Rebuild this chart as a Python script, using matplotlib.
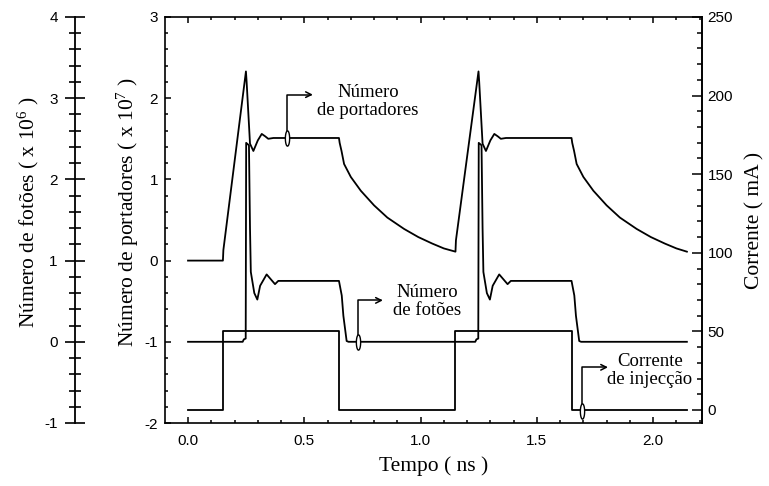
import matplotlib
matplotlib.use("Agg")
import matplotlib.pyplot as plt
from matplotlib.ticker import MultipleLocator, FormatStrFormatter
from matplotlib.path import Path
import numpy as np

plt.rcParams['axes.unicode_minus'] = False
plt.rcParams['mathtext.fontset'] = 'custom'
plt.rcParams['mathtext.rm'] = 'Liberation Serif'
plt.rcParams['mathtext.it'] = 'Liberation Serif'

# ---------------- data ----------------
carrier_t = [0.000, 0.150, 0.152, 0.249, 0.252, 0.2665, 0.281, 0.300, 0.317, 0.332, 0.345, 0.367,
             0.649, 0.652, 0.660, 0.671, 0.700, 0.743, 0.800, 0.857, 0.929, 0.990, 1.050, 1.100, 1.150,
             1.152, 1.249, 1.252, 1.2665, 1.281, 1.300, 1.317, 1.332, 1.345, 1.367,
             1.649, 1.652, 1.660, 1.671, 1.700, 1.743, 1.800, 1.857, 1.929, 1.990, 2.050, 2.100, 2.145]
carrier_n = [0.00, 0.00, 0.13, 2.33, 2.20, 1.44, 1.35, 1.48, 1.56, 1.53, 1.50, 1.51,
             1.51, 1.45, 1.35, 1.19, 1.03, 0.86, 0.68, 0.53, 0.39, 0.29, 0.21, 0.15, 0.11,
             0.25, 2.33, 2.20, 1.44, 1.35, 1.48, 1.56, 1.53, 1.50, 1.51,
             1.51, 1.45, 1.35, 1.19, 1.03, 0.86, 0.68, 0.53, 0.39, 0.29, 0.21, 0.15, 0.11]

photon_t = [0.000, 0.235, 0.240, 0.248, 0.250, 0.262, 0.2665, 0.270, 0.285, 0.298, 0.310, 0.338,
            0.356, 0.374, 0.388, 0.649, 0.661, 0.668, 0.682, 0.690,
            1.235, 1.240, 1.248, 1.250, 1.262, 1.2665, 1.270, 1.285, 1.298, 1.310, 1.338,
            1.356, 1.374, 1.388, 1.649, 1.661, 1.668, 1.682, 1.690, 2.145]
photon_s = [0.00, 0.00, 0.03, 0.04, 2.45, 2.42, 1.40, 0.86, 0.60, 0.52, 0.69, 0.83,
            0.77, 0.71, 0.75, 0.75, 0.57, 0.32, 0.01, 0.00,
            0.00, 0.03, 0.04, 2.45, 2.42, 1.40, 0.86, 0.60, 0.52, 0.69, 0.83,
            0.77, 0.71, 0.75, 0.75, 0.57, 0.32, 0.01, 0.00, 0.00]

current_t = [0.000, 0.150, 0.650, 1.150, 1.650, 2.145]
current_ma = [0, 50, 0, 50, 0, 0]

x_ticks = [0.0, 0.5, 1.0, 1.5, 2.0]
carrier_ticks = [-2, -1, 0, 1, 2, 3]
photon_ticks = [-1, 0, 1, 2, 3, 4]
current_ticks = [0, 50, 100, 150, 200, 250]

# ---------------- figure ----------------
W, H = 769, 486
fig = plt.figure(figsize=(W / 100, H / 100), dpi=100)
L, R, T, B = 165, 702, 17, 423
ax = fig.add_axes([L / W, 1 - B / H, (R - L) / W, (B - T) / H])
ax_cur = ax.twinx()
ax_ph = ax.twinx()

serif = 'Liberation Serif'
sans = 'Liberation Sans'
lw = 1.3
tick_fs = 11

ax.set_xlim(-0.099, 2.21)
ax.set_ylim(-2, 3)
ax_cur.set_ylim(-8.27, 250)
ax_ph.set_ylim(-1, 4)

# lines
ax.plot(carrier_t, carrier_n, color='black', lw=lw, zorder=3)
ax_ph.plot(photon_t, photon_s, color='black', lw=lw, zorder=3)
ax_cur.plot(current_t, current_ma, color='black', lw=lw, drawstyle='steps-post', zorder=3)

# main axis ticks
ax.set_xticks(x_ticks)
ax.xaxis.set_minor_locator(MultipleLocator(0.1))
ax.xaxis.set_major_formatter(FormatStrFormatter('%.1f'))
ax.set_yticks(carrier_ticks)
ax.yaxis.set_minor_locator(MultipleLocator(0.2))
ax.tick_params(axis='x', which='both', direction='in', top=True, bottom=True, pad=8,
               labelsize=tick_fs, width=1.1)
ax.tick_params(axis='x', which='major', length=4.5)
ax.tick_params(axis='x', which='minor', length=2.2)
ax.tick_params(axis='y', which='both', direction='in', left=True, right=False, pad=5,
               labelsize=tick_fs, width=1.1)
ax.tick_params(axis='y', which='major', length=4)
ax.tick_params(axis='y', which='minor', length=2)
for lab in ax.get_xticklabels() + ax.get_yticklabels():
    lab.set_family(sans)
for s in ax.spines.values():
    s.set_linewidth(1.2)

# current axis
ax_cur.set_yticks(current_ticks)
ax_cur.yaxis.set_minor_locator(MultipleLocator(10))
ax_cur.tick_params(axis='y', which='both', direction='in', right=True, left=False, pad=4,
                   labelsize=tick_fs, width=1.1)
ax_cur.tick_params(axis='y', which='major', length=7)
ax_cur.tick_params(axis='y', which='minor', length=3.6)
for lab in ax_cur.get_yticklabels():
    lab.set_family(sans)
for k in ['left', 'top', 'bottom']:
    ax_cur.spines[k].set_visible(False)
ax_cur.spines['right'].set_linewidth(1.2)

# photon axis (outer left)
ax_ph.spines['left'].set_position(('axes', -90 / (R - L)))
ax_ph.spines['left'].set_visible(True)
ax_ph.spines['left'].set_linewidth(1.3)
for k in ['right', 'top', 'bottom']:
    ax_ph.spines[k].set_visible(False)
ax_ph.yaxis.set_ticks_position('left')
ax_ph.yaxis.set_label_position('left')
ax_ph.set_yticks(photon_ticks)
ax_ph.yaxis.set_minor_locator(MultipleLocator(0.2))
ax_ph.tick_params(axis='y', which='both', direction='inout', pad=5, labelsize=tick_fs, width=1.2)
ax_ph.tick_params(axis='y', which='major', length=15)
ax_ph.tick_params(axis='y', which='minor', length=8)
for lab in ax_ph.get_yticklabels():
    lab.set_family(sans)

# labels
lab_fs = 15.5
ax.set_xlabel('Tempo ( ns )', family=serif, fontsize=lab_fs)
ax.xaxis.set_label_coords(0.5, (B - 466) / (B - T))
ax.set_ylabel('Número de portadores ( x 10$^{7}$ )', family=serif, fontsize=lab_fs)
ax.yaxis.set_label_coords((128 - L) / (R - L), 0.52)
ax_ph.set_ylabel('Número de fotões ( x 10$^{6}$ )', family=serif, fontsize=lab_fs)
ax_ph.yaxis.set_label_coords((28 - L) / (R - L), 0.52)
ax_cur.set_ylabel('Corrente ( mA )', family=serif, fontsize=lab_fs, rotation=90)
ax_cur.yaxis.set_label_coords((755 - L) / (R - L), 0.5)
ax.xaxis.label.set_va('center')
ax.yaxis.label.set_va('center')
ax_ph.yaxis.label.set_va('center')
ax_cur.yaxis.label.set_va('center')

# annotations
ann_fs = 13.5
oval = Path([(np.cos(a) * 0.28, np.sin(a)) for a in np.linspace(0, 2 * np.pi, 40)], closed=True)
arrow_kw = dict(arrowstyle='->', connectionstyle='angle,angleA=90,angleB=0,rad=0',
                shrinkA=0, shrinkB=0, lw=1.1, color='black', mutation_scale=10)

# Número de portadores
ax.annotate('', xy=(0.537, 2.044), xytext=(0.424, 1.51), arrowprops=arrow_kw, zorder=4)
ax.plot([0.424], [1.51], marker=oval, ms=11, mfc='white', mec='black', mew=1.0, zorder=5)
ax.text(0.774, 1.96, 'Número\nde portadores', family=serif, fontsize=ann_fs,
        ha='center', va='center', multialignment='center', linespacing=1.12)

# Número de fotões
ax.annotate('', xy=(0.838, -0.49), xytext=(0.730, -1.0), arrowprops=arrow_kw, zorder=4)
ax.plot([0.730], [-1.0], marker=oval, ms=11, mfc='white', mec='black', mew=1.0, zorder=5)
ax.text(1.027, -0.505, 'Número\nde fotões', family=serif, fontsize=ann_fs,
        ha='center', va='center', multialignment='center', linespacing=1.12)

# Corrente de injecção
ax.annotate('', xy=(1.806, -1.314), xytext=(1.695, -1.847), arrowprops=arrow_kw, zorder=4)
ax.plot([1.695], [-1.847], marker=oval, ms=11, mfc='white', mec='black', mew=1.0, zorder=5)
ax.text(1.986, -1.355, 'Corrente\nde injecção', family=serif, fontsize=ann_fs,
        ha='center', va='center', multialignment='center', linespacing=1.12)

ax.set_zorder(ax_ph.get_zorder() + 1)
ax.patch.set_visible(False)

fig.savefig('out.png', dpi=100)
